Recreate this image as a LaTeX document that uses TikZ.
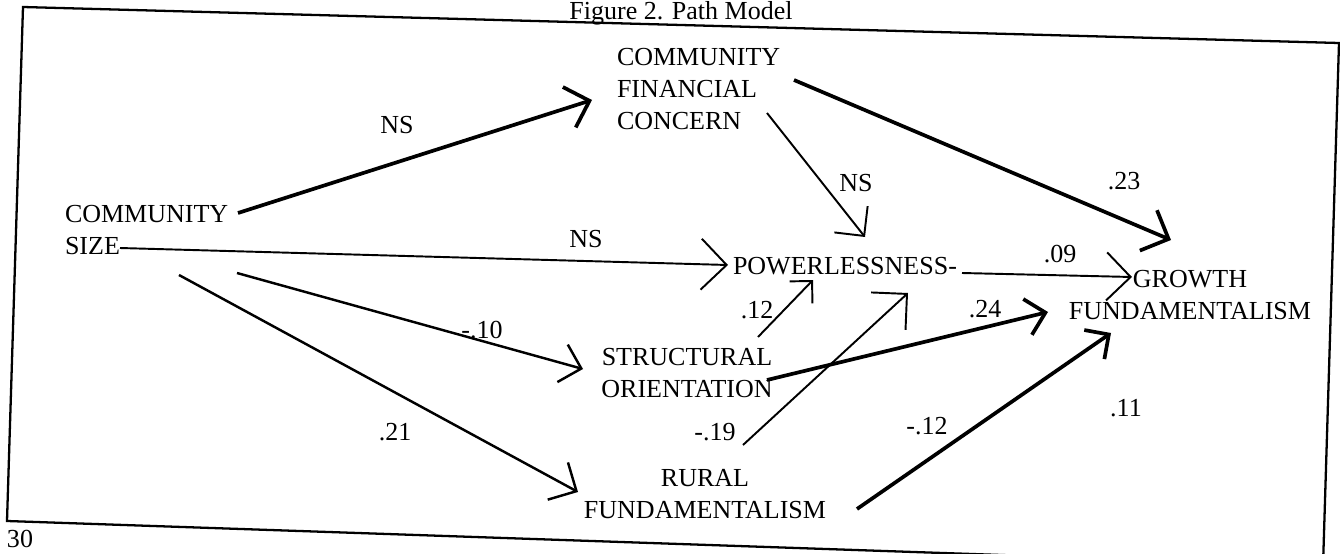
\documentclass[tikz,border=0pt]{standalone}
\usepackage{fontspec}
\setmainfont{Liberation Serif}
\usetikzlibrary{arrows.meta,calc}
\begin{document}
\begin{tikzpicture}[x=0.02cm,y=-0.02cm,
  txt/.style={font=\fontsize{14.8pt}{18.2pt}\selectfont, inner sep=0pt, outer sep=0pt},
  var/.style={txt, align=#1},
  pthin/.style={line width=1.1pt},
  pmed/.style={line width=1.4pt},
  pthick/.style={line width=2.1pt},
  hd/.style={-{Straight Barb[angle=90:#1]}}]
\useasboundingbox (0,0) rectangle (1340,554);
% frame, title, page number
\draw[line width=1.3pt, line join=miter] (23,7) -- (1339,43) -- (1323,566) -- (7,521) -- cycle;
\node[txt, anchor=base] (title) at (681,20) {Figure 2. Path Model};
\node[txt, anchor=base] (page) at (20,547) {30};
% variables
\node[var=left, anchor=west] (cs) at (65,230) {COMMUNITY\\SIZE};
\node[var=left, anchor=west] (cfc) at (617,89) {COMMUNITY\\FINANCIAL\\CONCERN};
\node[txt, anchor=west] (pow) at (733,266) {POWERLESSNESS-};
\node[var=center] (gf) at (1190,295) {GROWTH\\FUNDAMENTALISM};
\node[var=center] (so) at (687,373) {STRUCTURAL\\ORIENTATION};
\node[var=center] (rf) at (705,494) {RURAL\\FUNDAMENTALISM};
% paths
\draw[pthick, hd=0.6cm] ($(cs.west)+(173,-17)$) -- ($(cfc.west)+(-25,11)$);
\draw[pthin, hd=0.72cm] ($(cs.west)+(55,18)$) -- ($(pow.west)+(-5,-1)$);
\draw[pmed, hd=0.55cm] ($(cs.west)+(172,43)$) -- ($(so)+(-104,-4)$);
\draw[pmed, hd=0.6cm] ($(cs.west)+(114,45)$) -- ($(rf)+(-127,-2)$);
\draw[pthin, hd=0.6cm] ($(cfc.west)+(150,24)$) -- ($(pow.west)+(132,-29)$);
\draw[pthick, hd=0.62cm] ($(cfc.west)+(177,-9)$) -- ($(gf)+(-19,-55)$);
\draw[pthin, hd=0.68cm] ($(pow.west)+(229,7)$) -- ($(gf)+(-58,-18)$);
\draw[pthin, hd=0.45cm] ($(so)+(71,-36)$) -- ($(pow.west)+(80,14)$);
\draw[pthick, hd=0.52cm] ($(so)+(80,7)$) -- ($(gf)+(-142,17)$);
\draw[pthin, hd=0.72cm] ($(rf)+(38,-49)$) -- ($(pow.west)+(175,27)$);
\draw[pthick, hd=0.5cm] ($(rf)+(152,15)$) -- ($(gf)+(-79,38)$);
% coefficients
\node[txt] (ns1) at (397,125) {NS};
\node[txt] (ns2) at (586,239) {NS};
\node[txt] (ns3) at (856,183) {NS};
\node[txt] (c23) at (1124,181) {.23};
\node[txt] (c09) at (1060,254) {.09};
\node[txt] (c12) at (757,310) {.12};
\node[txt] (c24) at (985,309) {.24};
\node[txt] (c10) at (482,330) {-.10};
\node[txt] (c21) at (395,432) {.21};
\node[txt] (c19) at (715,432) {-.19};
\node[txt] (c12n) at (927,426) {-.12};
\node[txt] (c11) at (1126,408) {.11};
\end{tikzpicture}
\end{document}
